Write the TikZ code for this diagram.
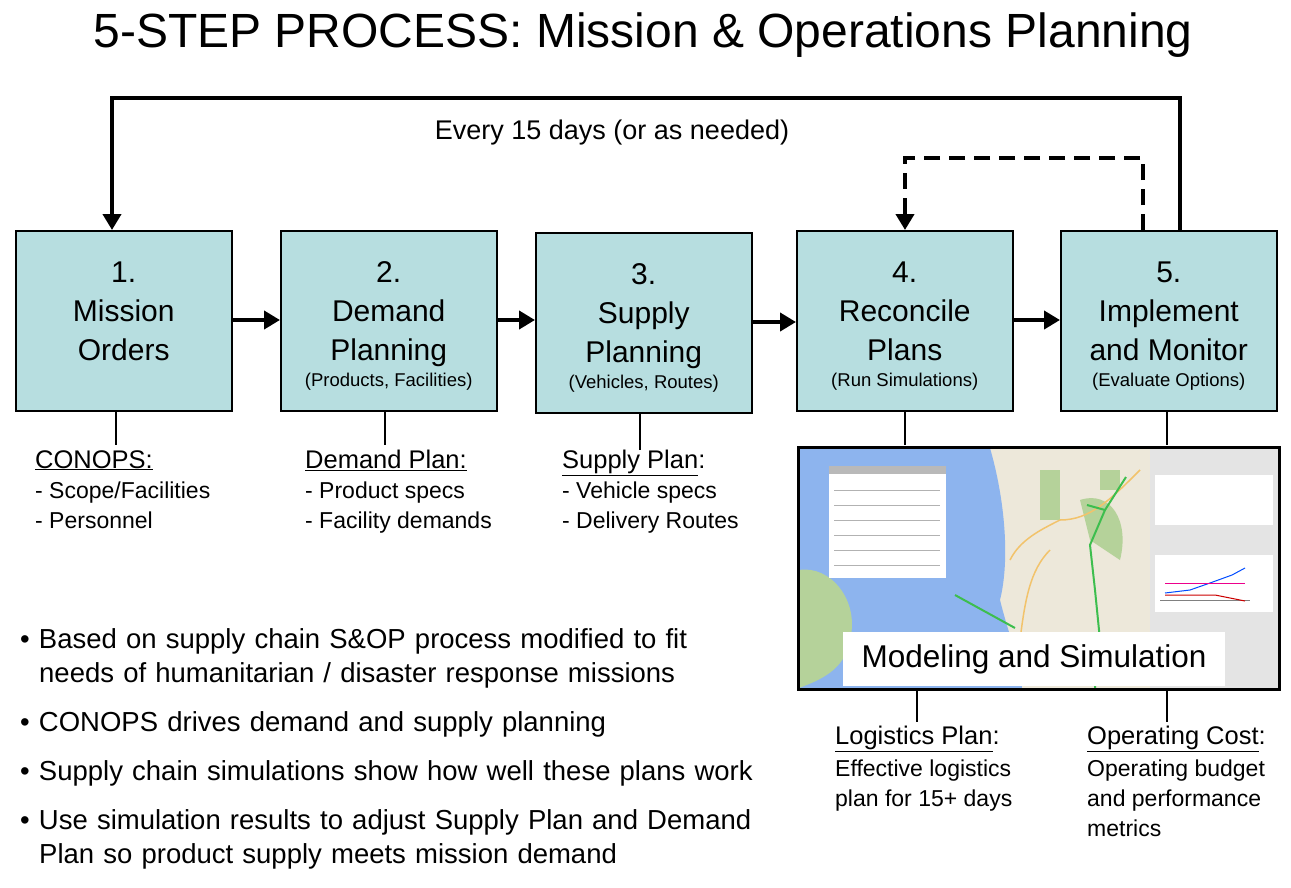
\documentclass[tikz,border=0pt]{standalone}
\usepackage{fontspec}
\setmainfont{Liberation Sans}
\usetikzlibrary{arrows.meta}
\definecolor{boxfill}{HTML}{B7DEE0}
\definecolor{sea}{HTML}{8DB4EE}
\definecolor{land}{HTML}{EDE8DA}
\definecolor{greenland}{HTML}{B5D29A}
\definecolor{route}{HTML}{3DBE4E}
\definecolor{road}{HTML}{F2C36B}
\definecolor{panel}{HTML}{E4E4E4}
\tikzset{
  stepbox/.style={draw=black,line width=1.5pt,fill=boxfill,minimum width=216pt,minimum height=180pt,anchor=north west,inner sep=0pt},
  flow/.style={line width=4pt,-{Triangle[length=16pt,width=18pt]}},
  stem/.style={line width=2pt},
  steptext/.style={align=center,anchor=north,font=\fontsize{30}{39}\selectfont},
  lbl/.style={anchor=north west,align=left,font=\fontsize{23}{30}\selectfont,inner sep=0pt},
  bul/.style={anchor=north west,align=left,font=\fontsize{27.5}{34}\selectfont,inner sep=0pt,text width=800pt}
}
\newcommand{\subtxt}[1]{\\[-13pt]{\fontsize{18.5}{22}\selectfont #1}}
\begin{document}
\begin{tikzpicture}[x=1pt,y=-1pt]
\useasboundingbox (0,0) rectangle (1291,887);
\node (title) at (643,35) {\fontsize{48}{52}\selectfont 5-STEP PROCESS: Mission \& Operations Planning};

\node[stepbox] (b1) at (15,230) {};
\node[stepbox] (b2) at (280,230) {};
\node[stepbox] (b3) at (535,232) {};
\node[stepbox] (b4) at (796,230) {};
\node[stepbox] (b5) at (1060,230) {};
\node[steptext] (t1) at ([yshift=-28pt]b1.north) {1.\\Mission\\Orders};
\node[steptext] (t2) at ([yshift=-28pt]b2.north) {2.\\Demand\\Planning\subtxt{(Products, Facilities)}};
\node[steptext] (t3) at ([yshift=-28pt]b3.north) {3.\\Supply\\Planning\subtxt{(Vehicles, Routes)}};
\node[steptext] (t4) at ([yshift=-28pt]b4.north) {4.\\Reconcile\\Plans\subtxt{(Run Simulations)}};
\node[steptext] (t5) at ([yshift=-28pt]b5.north) {5.\\Implement\\and Monitor\subtxt{(Evaluate Options)}};

\draw[flow] (b1.east |- 0,320) -- (b2.west |- 0,320);
\draw[flow] (b2.east |- 0,320) -- (b3.west |- 0,320);
\draw[flow] (b3.east |- 0,322) -- (b4.west |- 0,322);
\draw[flow] (b4.east |- 0,320) -- (b5.west |- 0,320);

\coordinate (lp1) at (1180,98);
\coordinate (lp2) at (112,98);
\draw[flow] (b5.north -| 1180,0) -- (lp1) -- (lp2) -- (b1.north -| 112,0);
\node (every) at (612,133) {\fontsize{27}{32}\selectfont Every 15 days (or as needed)};
\coordinate (dl1) at (1143,158);
\coordinate (dl2) at (905,158);
\draw[flow,dash pattern=on 16pt off 9pt] (b5.north -| 1143,0) -- (dl1) -- (dl2) -- (b4.north -| 905,0);

% stems
\coordinate (s1) at (116,445); \draw[stem] (b1.south -| s1) -- (s1);
\coordinate (s2) at (385,445); \draw[stem] (b2.south -| s2) -- (s2);
\coordinate (s3) at (640,450); \draw[stem] (b3.south -| s3) -- (s3);
\coordinate (s4) at (905,445); \draw[stem] (b4.south -| s4) -- (s4);
\coordinate (s5) at (1167,445); \draw[stem] (b5.south -| s5) -- (s5);

\node[lbl] (l1) at (35,450) {\fontsize{25.5}{31}\selectfont\underline{CONOPS:}\\- Scope/Facilities\\- Personnel};
\node[lbl] (l2) at (305,450) {\fontsize{25.5}{31}\selectfont\underline{Demand Plan:}\\- Product specs\\- Facility demands};
\node[lbl] (l3) at (562,450) {\fontsize{25.5}{31}\selectfont\underline{Supply Plan}:\\- Vehicle specs\\- Delivery Routes};

% screenshot
\begin{scope}
\clip (799,448) rectangle (1278,688);
\fill[land] (799,448) rectangle (1278,688);
\fill[sea] (799,448) -- (990,448) .. controls (1005,500) and (1010,560) .. (1000,600) .. controls (1010,640) and (1020,660) .. (1022,688) -- (799,688) -- cycle;
\fill[greenland] (799,570) .. controls (830,565) and (860,600) .. (850,640) .. controls (845,670) and (820,680) .. (799,688) -- cycle;
\fill[greenland] (1040,470) rectangle (1060,520);
\fill[greenland] (1080,500) .. controls (1110,490) and (1130,520) .. (1120,560) -- (1090,540) -- cycle;
\fill[greenland] (1100,470) rectangle (1120,490);
\draw[road,line width=1.5pt] (1010,560) .. controls (1020,540) and (1040,530) .. (1060,520) .. controls (1090,520) and (1110,500) .. (1140,470);
\draw[road,line width=1.5pt] (1020,640) .. controls (1025,600) and (1030,570) .. (1050,550);
\draw[route,line width=2pt] (1126,477) -- (1105,510) -- (1090,545) -- (1095,590) -- (1100,640) -- (1095,688);
\draw[route,line width=2pt] (1087,505) -- (1105,510);
\draw[route,line width=2pt] (955,595) -- (1015,628);
\fill[panel] (1150,448) rectangle (1278,688);
\fill[white] (1155,475) rectangle (1273,525);
\fill[white] (1155,555) rectangle (1273,612);
\draw[gray] (1160,600) -- (1250,600);
\draw[blue!70!cyan,line width=1pt] (1165,593) -- (1190,590) -- (1210,583) -- (1232,575) -- (1245,568);
\draw[magenta,line width=1pt] (1165,583) -- (1245,583);
\draw[red!80!black,line width=1pt] (1165,595) -- (1215,595) -- (1245,601);
\fill[white] (829,466) rectangle (946,578);
\fill[gray!55] (829,466) rectangle (946,474);
\foreach \yy in {490,505,520,535,550,565} {\draw[gray!60,line width=0.4pt] (834,\yy) -- (940,\yy);}
\end{scope}
\draw[line width=3pt] (798,447) rectangle (1279,689);
\node[fill=white,minimum width=382pt,minimum height=54pt,inner sep=0pt] (ms) at (1034,659) {\fontsize{31.5}{36}\selectfont Modeling and Simulation};

\coordinate (s6) at (917,690); \coordinate (s6b) at (917,722); \draw[stem] (s6) -- (s6b);
\coordinate (s7) at (1167,690); \coordinate (s7b) at (1167,722); \draw[stem] (s7) -- (s7b);
\node[lbl] (l4) at (835,726) {\fontsize{25.5}{31}\selectfont\underline{Logistics Plan}:};
\node[lbl] (l4b) at (835,760) {Effective logistics\\plan for 15+ days};
\node[lbl] (l5) at (1087,726) {\fontsize{25.5}{31}\selectfont\underline{Operating Cost}:};
\node[lbl] (l5b) at (1087,760) {\fontsize{23}{28.5}\selectfont Operating budget\\and performance\\metrics};

\node[bul] (bu) at (20,628) {%
\textbullet\ Based on supply chain S\&OP process modified to fit\\
\hspace*{19pt}needs of humanitarian / disaster response missions\\[15pt]
\textbullet\ CONOPS drives demand and supply planning\\[15pt]
\textbullet\ Supply chain simulations show how well these plans work\\[15pt]
\textbullet\ Use simulation results to adjust Supply Plan and Demand\\
\hspace*{19pt}Plan so product supply meets mission demand};
\end{tikzpicture}
\end{document}
